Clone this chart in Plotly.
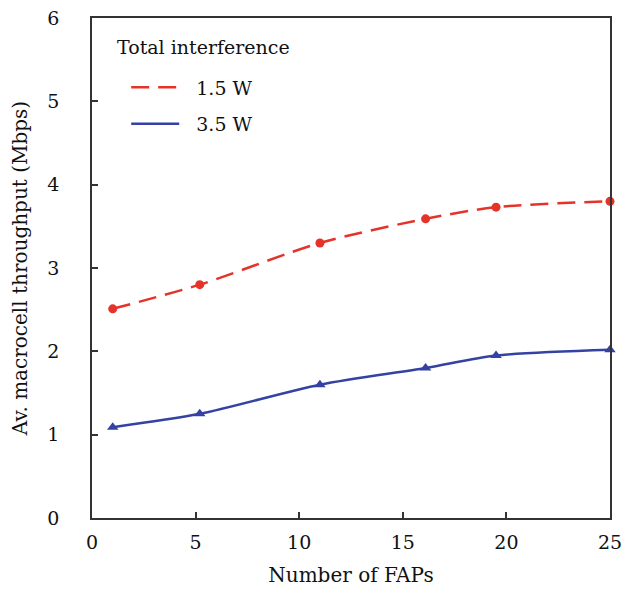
import plotly.graph_objects as go

# Data
faps = [1, 5.2, 11, 16.1, 19.5, 25]
thr_15w = [2.51, 2.80, 3.30, 3.59, 3.73, 3.80]
thr_35w = [1.09, 1.25, 1.60, 1.80, 1.95, 2.02]
series_names = ["1.5 W", "3.5 W"]
x_ticks = [0, 5, 10, 15, 20, 25]
y_ticks = [0, 1, 2, 3, 4, 5, 6]

RED = "#e5332a"
BLUE = "#3443a3"
FONT = "DejaVu Serif"
FS = 19
PAD = "\u00a0\u00a0"

fig = go.Figure()
fig.add_trace(go.Scatter(
    x=faps, y=thr_15w, name=series_names[0], mode="lines+markers",
    line=dict(color=RED, width=2.5, dash="18px,9px", shape="spline", smoothing=0.8),
    marker=dict(symbol="circle", size=9, color=RED),
    legend="legend", showlegend=False, cliponaxis=False))
fig.add_trace(go.Scatter(
    x=faps, y=thr_35w, name=series_names[1], mode="lines+markers",
    line=dict(color=BLUE, width=2.5, shape="spline", smoothing=0.8),
    marker=dict(symbol="triangle-up", size=10, color=BLUE),
    legend="legend2", showlegend=False, cliponaxis=False))
# legend-only line samples
fig.add_trace(go.Scatter(
    x=[None], y=[None], name=PAD + series_names[0], mode="lines",
    line=dict(color=RED, width=2.5, dash="18px,9px"), legend="legend"))
fig.add_trace(go.Scatter(
    x=[None], y=[None], name=PAD + series_names[1], mode="lines",
    line=dict(color=BLUE, width=2.5), legend="legend2"))

axis_common = dict(
    showgrid=False, zeroline=False, showline=True, linecolor="#333333",
    linewidth=1.5, mirror=True, ticks="inside", ticklen=6, tickcolor="#333333",
    tickwidth=1.5, automargin=False, ticklabeloverflow="allow",
    tickfont=dict(family=FONT, size=FS, color="#111111"),
)

fig.update_layout(
    width=624, height=594,
    margin=dict(l=92, r=14, t=18, b=76),
    paper_bgcolor="white", plot_bgcolor="white",
    font=dict(family=FONT, size=FS, color="#111111"),
    xaxis=dict(range=[0, 25], tickvals=x_ticks,
               ticklabelstandoff=6,
               title=dict(text="Number of FAPs", standoff=16,
                          font=dict(family=FONT, size=20)),
               **axis_common),
    yaxis=dict(range=[0, 6], tickvals=y_ticks, ticklabelstandoff=27,
               title=dict(text="Av. macrocell throughput (Mbps)", standoff=14,
                          font=dict(family=FONT, size=20)),
               **axis_common),
    legend=dict(x=0.066, y=0.861, xanchor="left", yanchor="middle", itemwidth=48,
                bgcolor="rgba(0,0,0,0)", font=dict(family=FONT, size=FS)),
    legend2=dict(x=0.066, y=0.788, xanchor="left", yanchor="middle", itemwidth=48,
                 bgcolor="rgba(0,0,0,0)", font=dict(family=FONT, size=FS)),
    annotations=[dict(text="Total interference", x=0.044, y=0.942,
                      xref="paper", yref="paper", xanchor="left", yanchor="middle",
                      showarrow=False, font=dict(family=FONT, size=FS))],
)

fig.write_html("out.html")
